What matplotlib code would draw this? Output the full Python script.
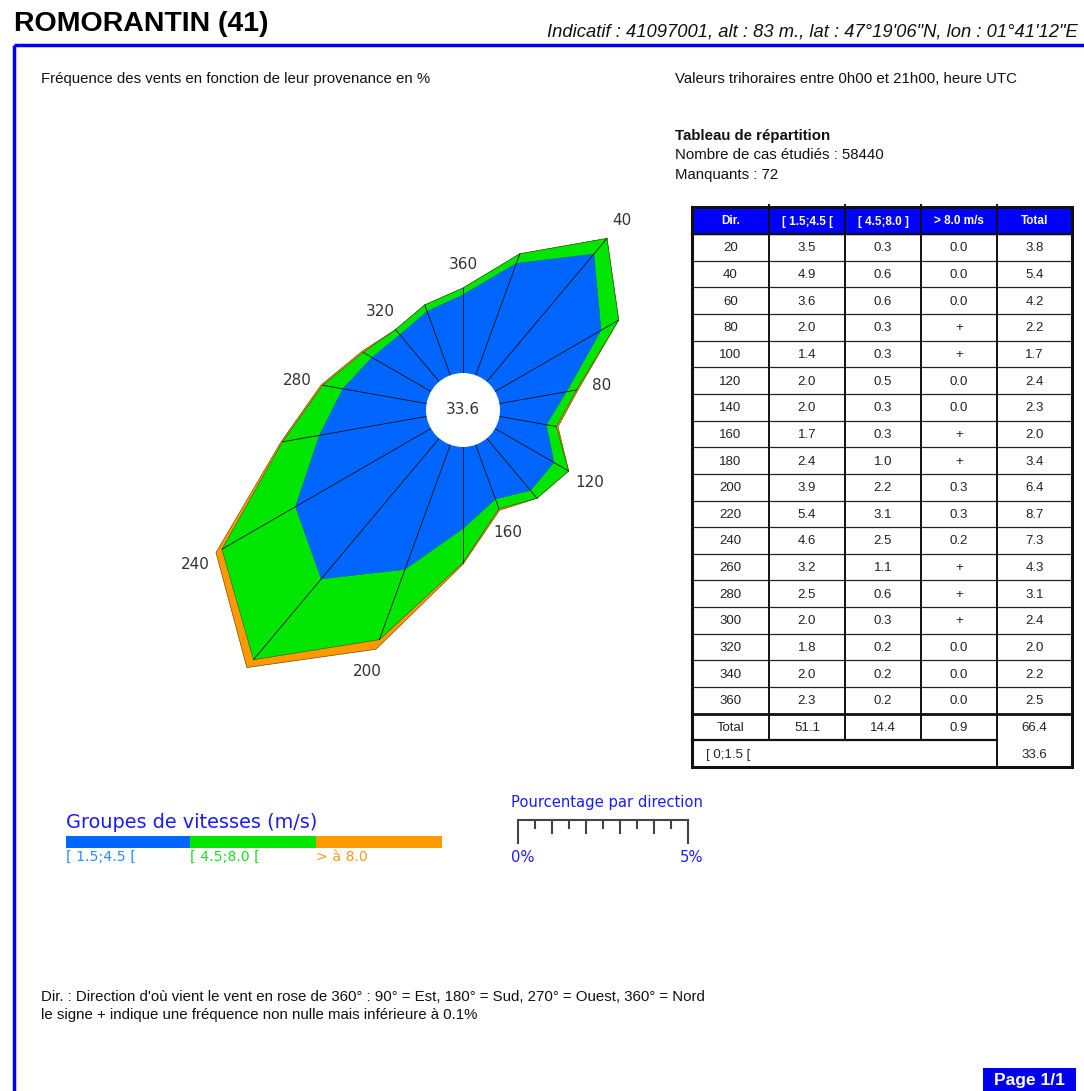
import numpy as np
import matplotlib
matplotlib.use("Agg")
import matplotlib.pyplot as plt
from matplotlib.patches import Polygon, Circle, Rectangle

# ---------------- data ----------------
directions = [20, 40, 60, 80, 100, 120, 140, 160, 180, 200, 220, 240, 260, 280, 300, 320, 340, 360]
speed_1_5_4_5 = [3.5, 4.9, 3.6, 2.0, 1.4, 2.0, 2.0, 1.7, 2.4, 3.9, 5.4, 4.6, 3.2, 2.5, 2.0, 1.8, 2.0, 2.3]
speed_4_5_8_0 = [0.3, 0.6, 0.6, 0.3, 0.3, 0.5, 0.3, 0.3, 1.0, 2.2, 3.1, 2.5, 1.1, 0.6, 0.3, 0.2, 0.2, 0.2]
speed_gt_8_0 = [0.0, 0.0, 0.0, '+', '+', 0.0, 0.0, '+', '+', 0.3, 0.3, 0.2, '+', '+', '+', 0.0, 0.0, 0.0]
totals = [3.8, 5.4, 4.2, 2.2, 1.7, 2.4, 2.3, 2.0, 3.4, 6.4, 8.7, 7.3, 4.3, 3.1, 2.4, 2.0, 2.2, 2.5]
total_row = ['Total', '51.1', '14.4', '0.9', '66.4']
calm_label = '[ 0;1.5 ['
calm_value = 33.6
plus_value = 0.05  # "+" : non-zero but < 0.1 %
label_dirs = [40, 80, 120, 160, 200, 240, 280, 320, 360]
header = ['Dir.', '[ 1.5;4.5 [', '[ 4.5;8.0 ]', '> 8.0 m/s', 'Total']
legend_labels = ['[ 1.5;4.5 [', '[ 4.5;8.0 [', '> à 8.0']

# ---------------- style ----------------
C_BLUE = '#0066ff'
C_GREEN = '#00e600'
C_ORANGE = '#ff9900'
FRAME = '#0000ee'
W, H = 1084, 1091
PX_PER_PCT = 34.0          # rose scale: pixels per percent
HOLE_PX = 37.0
CX, CY = 463, 410          # rose centre in pixels
HALF = 330

ARIAL = ['Liberation Sans', 'DejaVu Sans']
NARROW = ['Liberation Sans Narrow', 'Liberation Sans', 'DejaVu Sans']

fig = plt.figure(figsize=(W / 100, H / 100), dpi=100)

# overlay axes in pixel coordinates for page layout
ov = fig.add_axes([0, 0, 1, 1])
ov.set_xlim(0, W)
ov.set_ylim(H, 0)
ov.axis('off')

# header
ov.text(14, 24, 'ROMORANTIN (41)', fontsize=20.5, fontweight='bold', family=NARROW,
        va='center', ha='left', color='black')
ov.text(547, 32, 'Indicatif : 41097001, alt : 83 m., lat : 47°19\'06"N, lon : 01°41\'12"E',
        fontsize=13.2, style='italic', family=NARROW, va='center', ha='left', color='#111')
ov.plot([14, W], [45, 45], color=FRAME, lw=2.5, solid_capstyle='butt')
ov.plot([14, 14], [45, H], color=FRAME, lw=2.5, solid_capstyle='butt')

TXT = 10.8
ov.text(41, 79, 'Fréquence des vents en fonction de leur provenance en %', fontsize=TXT,
        family=ARIAL, va='center', color='#111')
ov.text(675, 79, 'Valeurs trihoraires entre 0h00 et 21h00, heure UTC', fontsize=TXT,
        family=ARIAL, va='center', color='#111')
ov.text(675, 136, 'Tableau de répartition', fontsize=TXT, fontweight='bold',
        family=ARIAL, va='center', color='#111')
ov.text(675, 155, 'Nombre de cas étudiés : 58440', fontsize=TXT, family=ARIAL, va='center', color='#111')
ov.text(675, 175, 'Manquants : 72', fontsize=TXT, family=ARIAL, va='center', color='#111')

# ---------------- table ----------------
xs = [692, 769, 845, 921, 997, 1072]
top, hdr_bot = 207, 234
rh = 26.65
ov.add_patch(Rectangle((xs[0], top), xs[-1] - xs[0], hdr_bot - top, color='#0000ff', zorder=1))
for i, h in enumerate(header):
    ov.text((xs[i] + xs[i + 1]) / 2, (top + hdr_bot) / 2 + 1, h, color='white', fontsize=8.5,
            fontweight='bold', family=NARROW, ha='center', va='center', zorder=3)


def fmt(v):
    return v if isinstance(v, str) else f'{v:.1f}'


CELL = 9.5
rows = []
for d, a, b, c, t in zip(directions, speed_1_5_4_5, speed_4_5_8_0, speed_gt_8_0, totals):
    rows.append([str(d), fmt(a), fmt(b), fmt(c), fmt(t)])
rows.append(total_row)
for r, row in enumerate(rows):
    yc = hdr_bot + (r + 0.5) * rh
    for i, cell in enumerate(row):
        ov.text((xs[i] + xs[i + 1]) / 2, yc + 1, cell, fontsize=CELL, family=ARIAL,
                ha='center', va='center', color='#222', zorder=3)
ycalm = hdr_bot + (len(rows) + 0.5) * rh
ov.text(xs[0] + 14, ycalm + 1, calm_label, fontsize=CELL, family=ARIAL, ha='left', va='center', color='#222')
ov.text((xs[4] + xs[5]) / 2, ycalm + 1, f'{calm_value:.1f}', fontsize=CELL, family=ARIAL,
        ha='center', va='center', color='#222')
bottom = hdr_bot + (len(rows) + 1) * rh
# horizontal lines
for r in range(1, len(rows)):
    y = hdr_bot + r * rh
    ov.plot([xs[0], xs[-1]], [y, y], color='#222', lw=0.9, zorder=2)
y_tot = hdr_bot + (len(rows) - 1) * rh
ov.plot([xs[0], xs[-1]], [y_tot, y_tot], color='#111', lw=2.0, zorder=2)
y_calm = hdr_bot + len(rows) * rh
ov.plot([xs[0], xs[4]], [y_calm, y_calm], color='#111', lw=1.6, zorder=2)
ov.plot([xs[0], xs[-1]], [hdr_bot, hdr_bot], color='#111', lw=1.6, zorder=2)
# vertical lines
for i, x in enumerate(xs[1:-1]):
    yend = bottom if i == 3 else y_calm
    ov.plot([x, x], [top - 2, yend], color='#111', lw=1.4, zorder=2)
ov.add_patch(Rectangle((xs[0], top), xs[-1] - xs[0], bottom - top, fill=False,
                       edgecolor='#111', lw=2.2, zorder=4))

# ---------------- legend ----------------
ov.text(66, 822, 'Groupes de vitesses (m/s)', fontsize=13.9, family='DejaVu Sans', color='#1a1aff',
        va='center', ha='left')
bar_x = [66, 190, 316, 442]
bar_cols = [C_BLUE, C_GREEN, C_ORANGE]
lab_cols = ['#2a8cff', '#22dd22', '#ff9922']
for i in range(3):
    ov.add_patch(Rectangle((bar_x[i], 836), bar_x[i + 1] - bar_x[i], 12, color=bar_cols[i], lw=0))
    ov.text(bar_x[i], 857, legend_labels[i], fontsize=10.2, family='DejaVu Sans', color=lab_cols[i],
            va='center', ha='left')

# scale bar (same scale as the rose)
sx0, sy = 518, 820
ov.text(511, 803, 'Pourcentage par direction', fontsize=10.6, family='DejaVu Sans', color='#1a1aff',
        va='center', ha='left')
sx1 = sx0 + 5 * PX_PER_PCT
ov.plot([sx0, sx1], [sy, sy], color='#444', lw=1.5)
for k in range(11):
    x = sx0 + k * 0.5 * PX_PER_PCT
    ln = 23 if k in (0, 10) else (13 if k % 2 == 0 else 8)
    ov.plot([x, x], [sy, sy + ln], color='#444', lw=1.5)
ov.text(sx0 - 7, 857, '0%', fontsize=10.6, family='DejaVu Sans', color='#1a1aff', ha='left', va='center')
ov.text(sx1 + 15, 857, '5%', fontsize=10.6, family='DejaVu Sans', color='#1a1aff', ha='right', va='center')

# footer
ov.text(41, 997, "Dir. : Direction d'où vient le vent en rose de 360° : 90° = Est, 180° = Sud, 270° = Ouest, 360° = Nord",
        fontsize=TXT, family=ARIAL, va='center', color='#111')
ov.text(41, 1015, 'le signe + indique une fréquence non nulle mais inférieure à 0.1%',
        fontsize=TXT, family=ARIAL, va='center', color='#111')
ov.add_patch(Rectangle((983, 1068), 93, 23, color='#0000ee', lw=0))
ov.text(1029, 1080, 'Page 1/1', fontsize=12.5, fontweight='bold', family=ARIAL, color='white',
        ha='center', va='center')

# ---------------- wind rose ----------------
ax = fig.add_axes([(CX - HALF) / W, (H - (CY + HALF)) / H, 2 * HALF / W, 2 * HALF / H])
lim = HALF / PX_PER_PCT
ax.set_xlim(-lim, lim)
ax.set_ylim(-lim, lim)
ax.axis('off')
ax.patch.set_alpha(0)

r0 = HOLE_PX / PX_PER_PCT
theta = np.deg2rad(np.array(directions, dtype=float))
v1 = np.array(speed_1_5_4_5)
v2 = np.array(speed_4_5_8_0)
v3 = np.array([plus_value if v == '+' else v for v in speed_gt_8_0], dtype=float)
c1 = r0 + v1
c2 = c1 + v2
c3 = c2 + v3


def xy(r):
    return np.column_stack([r * np.sin(theta), r * np.cos(theta)])


ax.add_patch(Polygon(xy(c3), closed=True, facecolor=C_ORANGE, edgecolor='#7a4a00', lw=0.5, zorder=1))
ax.add_patch(Polygon(xy(c2), closed=True, facecolor=C_GREEN, edgecolor='#1a5a1a', lw=0.4, zorder=2))
ax.add_patch(Polygon(xy(c1), closed=True, facecolor=C_BLUE, edgecolor='#0050c0', lw=0.3, zorder=3))
for t, r in zip(theta, c2):
    ax.plot([r0 * np.sin(t), r * np.sin(t)], [r0 * np.cos(t), r * np.cos(t)], color='#111', lw=0.6, zorder=4)
ax.add_patch(Circle((0, 0), r0, facecolor='white', edgecolor='none', zorder=5))
ax.text(0, 0, f'{calm_value:.1f}', fontsize=11, family='DejaVu Sans', color='#333',
        ha='center', va='center', zorder=6)
for d in label_dirs:
    i = directions.index(d)
    rl = c3[i] + 0.7
    ax.text(rl * np.sin(theta[i]), rl * np.cos(theta[i]), str(d), fontsize=11, family='DejaVu Sans',
            color='#333', ha='center', va='center', zorder=6)

fig.savefig('out.png', dpi=100)
